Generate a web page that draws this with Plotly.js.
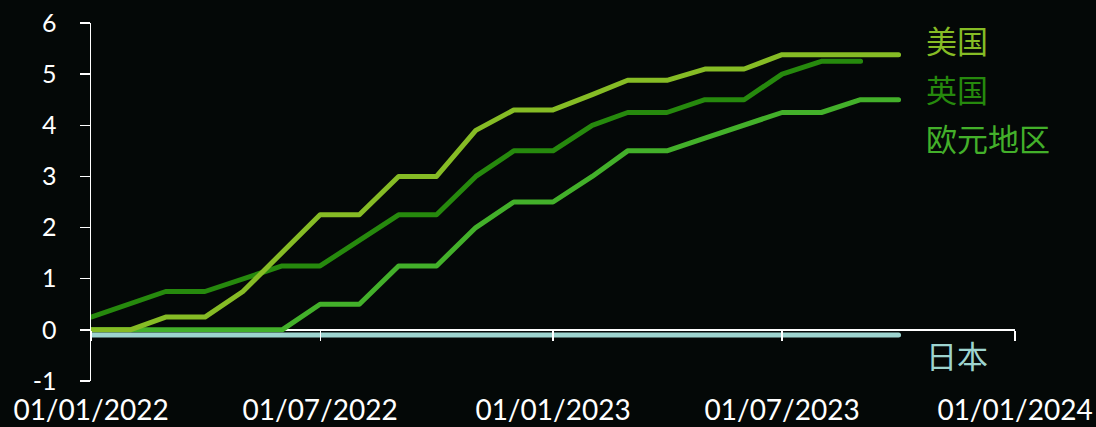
<!DOCTYPE html>
<html>
<head>
<meta charset="utf-8">
<script src="https://cdn.plot.ly/plotly-3.0.1.min.js"></script>
<style>
html,body{margin:0;padding:0;background:#040807;}
#chart{width:1096px;height:427px;}
.scatterlayer .js-line{stroke-linecap:round;stroke-linejoin:round;}
</style>
</head>
<body>
<div id="chart"></div>
<script>
const months = ['2022-01-01','2022-02-01','2022-03-01','2022-04-01','2022-05-01','2022-06-01',
  '2022-07-01','2022-08-01','2022-09-01','2022-10-01','2022-11-01','2022-12-01',
  '2023-01-01','2023-02-01','2023-03-01','2023-04-01','2023-05-01','2023-06-01',
  '2023-07-01','2023-08-01','2023-09-01','2023-10-01'];
const seriesNames = ['美国','英国','欧元地区','日本'];
const usRate    = [0,0,0.25,0.25,0.75,1.5,2.25,2.25,3.0,3.0,3.9,4.3,4.3,4.6,4.88,4.88,5.1,5.1,5.38,5.38,5.38,5.38];
const ukRate    = [0.25,0.5,0.75,0.75,1.0,1.25,1.25,1.75,2.25,2.25,3.0,3.5,3.5,4.0,4.25,4.25,4.5,4.5,5.0,5.25,5.25];
const euroRate  = [0,0,0,0,0,0,0.5,0.5,1.25,1.25,2.0,2.5,2.5,3.0,3.5,3.5,3.75,4.0,4.25,4.25,4.5,4.5];
const japanRate = [-0.1,-0.1,-0.1,-0.1,-0.1,-0.1,-0.1,-0.1,-0.1,-0.1,-0.1,-0.1,-0.1,-0.1,-0.1,-0.1,-0.1,-0.1,-0.1,-0.1,-0.1,-0.1];
const yTickVals = [-1,0,1,2,3,4,5,6];
const yTickText = ['-1','0','1','2','3','4','5','6'];
const xTickVals = ['2022-01-01','2022-07-01','2023-01-01','2023-07-01','2024-01-01'];
const xTickText = ['01/01/2022','01/07/2022','01/01/2023','01/07/2023','01/01/2024'];

const colors = ['#86BC25','#26890D','#43B02A','#9DD4CF'];
const labelY = [5.67, 4.71, 3.76, -0.49];

const traces = [
  {x: months.slice(0, japanRate.length), y: japanRate, name: seriesNames[3], xaxis:'x2', yaxis:'y'},
  {x: months.slice(0, euroRate.length), y: euroRate, name: seriesNames[2]},
  {x: months.slice(0, ukRate.length), y: ukRate, name: seriesNames[1]},
  {x: months.slice(0, usRate.length), y: usRate, name: seriesNames[0]}
].map(t => {
  const idx = seriesNames.indexOf(t.name);
  return Object.assign({type:'scatter', mode:'lines', line:{color:colors[idx], width:5}, hoverinfo:'skip'}, t);
});

const annotations = seriesNames.map((n,i) => ({
  xref:'paper', yref:'y', x:0.902, y:labelY[i], xanchor:'left', yanchor:'middle',
  text:n, showarrow:false, font:{family:'Noto Sans CJK SC', size:31, color:colors[i]}
}));

const layout = {
  width:1096, height:427,
  paper_bgcolor:'#040807', plot_bgcolor:'#040807',
  margin:{l:91, r:81, t:22.5, b:45.75},
  showlegend:false,
  xaxis:{
    type:'date', range:['2022-01-01','2024-01-01'],
    tickvals:xTickVals, ticktext:xTickText,
    showline:false, showgrid:false, zeroline:false, ticks:'',
    tickfont:{family:'Lato', size:28, color:'#ffffff'},
    ticklabelstandoff:10
  },
  xaxis2:{
    type:'date', matches:'x', overlaying:'x', anchor:'free', position:1/7,
    tickvals:xTickVals, showticklabels:false,
    showline:false, showgrid:false, zeroline:false,
    ticks:'outside', ticklen:10, tickwidth:1.2, tickcolor:'#ffffff'
  },
  yaxis:{
    range:[-1,6], tickvals:yTickVals, ticktext:yTickText,
    showline:true, linecolor:'#ffffff', linewidth:1.5,
    ticks:'outside', ticklen:10, tickwidth:1.5, tickcolor:'#ffffff',
    showgrid:false, zeroline:true, zerolinecolor:'#ffffff', zerolinewidth:1.5,
    tickfont:{family:'Lato', size:25, color:'#ffffff'},
    ticklabelstandoff:18
  },
  annotations:annotations
};

Plotly.newPlot('chart', traces, layout, {displayModeBar:false, staticPlot:true});
</script>
</body>
</html>
